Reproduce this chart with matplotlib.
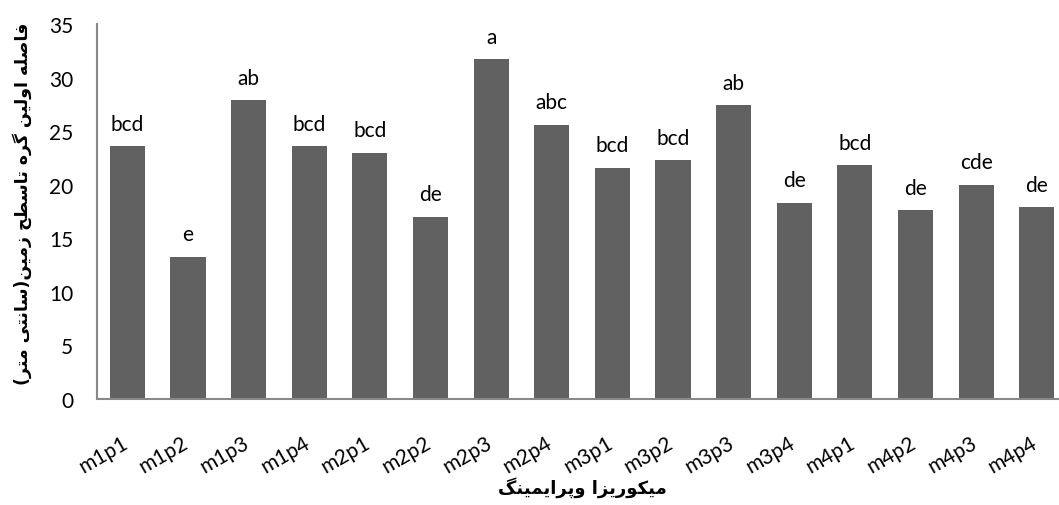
import matplotlib.pyplot as plt
import matplotlib.transforms as mtransforms
import numpy as np

# treatments and mean distance of first node to soil surface (cm)
treatments = ['m1p1', 'm1p2', 'm1p3', 'm1p4', 'm2p1', 'm2p2', 'm2p3', 'm2p4',
              'm3p1', 'm3p2', 'm3p3', 'm3p4', 'm4p1', 'm4p2', 'm4p3', 'm4p4']
means = [23.6, 13.3, 27.9, 23.6, 23.0, 17.0, 31.7, 25.6,
         21.6, 22.3, 27.4, 18.3, 21.8, 17.6, 20.0, 17.9]
groups = ['bcd', 'e', 'ab', 'bcd', 'bcd', 'de', 'a', 'abc',
          'bcd', 'bcd', 'ab', 'de', 'bcd', 'de', 'cde', 'de']

ylabel_fa = 'فاصله اولین گره تاسطح زمین(سانتی متر)'
xlabel_fa = 'میکوریزا وپرایمینگ'

# contextual forms: (isolated, final, initial, medial)
FORMS = {
    'ا': ('\uFE8D', '\uFE8E'),
    'ر': ('\uFEAD', '\uFEAE'),
    'ز': ('\uFEAF', '\uFEB0'),
    'و': ('\uFEED', '\uFEEE'),
    'ت': ('\uFE95', '\uFE96', '\uFE97', '\uFE98'),
    'ح': ('\uFEA1', '\uFEA2', '\uFEA3', '\uFEA4'),
    'س': ('\uFEB1', '\uFEB2', '\uFEB3', '\uFEB4'),
    'ص': ('\uFEB9', '\uFEBA', '\uFEBB', '\uFEBC'),
    'ط': ('\uFEC1', '\uFEC2', '\uFEC3', '\uFEC4'),
    'ف': ('\uFED1', '\uFED2', '\uFED3', '\uFED4'),
    'ل': ('\uFEDD', '\uFEDE', '\uFEDF', '\uFEE0'),
    'م': ('\uFEE1', '\uFEE2', '\uFEE3', '\uFEE4'),
    'ن': ('\uFEE5', '\uFEE6', '\uFEE7', '\uFEE8'),
    'ه': ('\uFEE9', '\uFEEA', '\uFEEB', '\uFEEC'),
    'ی': ('\uFBFC', '\uFBFD', '\uFBFE', '\uFBFF'),
    'ک': ('\uFB8E', '\uFB8F', '\uFB90', '\uFB91'),
    'گ': ('\uFB92', '\uFB93', '\uFB94', '\uFB95'),
    'پ': ('\uFB56', '\uFB57', '\uFB58', '\uFB59'),
}


def shape_fa(s):
    # join letters, then lay out right-to-left
    out = []
    for i, ch in enumerate(s):
        if ch not in FORMS:
            out.append(ch)
            continue
        prev = s[i - 1] if i > 0 else ''
        nxt = s[i + 1] if i + 1 < len(s) else ''
        join_prev = prev in FORMS and len(FORMS[prev]) == 4
        join_next = len(FORMS[ch]) == 4 and nxt in FORMS
        if join_prev and join_next:
            out.append(FORMS[ch][3])
        elif join_prev:
            out.append(FORMS[ch][1])
        elif join_next:
            out.append(FORMS[ch][2])
        else:
            out.append(FORMS[ch][0])
    mirror = {'(': ')', ')': '('}
    return ''.join(mirror.get(c, c) for c in reversed(out))


plt.rcParams['font.family'] = ['Lato', 'DejaVu Sans']

fig = plt.figure(figsize=(10.59, 5.06), dpi=100)
ax = fig.add_axes([0.0916, 0.2095, 0.916, 0.741])

x = np.arange(len(treatments))
bars = ax.bar(x, means, width=0.58, color='#616161', zorder=2)

for xi, m, g in zip(x, means, groups):
    ax.annotate(g, (xi, m), xytext=(0, 9), textcoords='offset points',
                ha='center', va='bottom', fontsize=15, color='black')

ax.set_xlim(-0.5, len(treatments) - 0.5)
ax.set_ylim(0, 35)
ax.set_yticks(range(0, 36, 5))
ax.tick_params(axis='y', length=0, pad=17, labelsize=15)
ax.tick_params(axis='x', length=0, pad=24, labelsize=15)
ax.set_xticks(x)
ax.set_xticklabels(treatments, rotation=30, ha='right')
shift = mtransforms.ScaledTranslation(4 / 100, 0, fig.dpi_scale_trans)
for lbl in ax.get_xticklabels():
    lbl.set_transform(lbl.get_transform() + shift)

for side in ['top', 'right']:
    ax.spines[side].set_visible(False)
for side in ['left', 'bottom']:
    ax.spines[side].set_color('#898989')
    ax.spines[side].set_linewidth(1.5)

ax.set_ylabel(shape_fa(ylabel_fa), family=['DejaVu Sans'], fontweight='bold',
              fontsize=12.5)
ax.yaxis.set_label_coords(-0.067, 0.523)
ax.set_xlabel(shape_fa(xlabel_fa), family=['DejaVu Sans'], fontweight='bold',
              fontsize=13, labelpad=0)

fig.savefig('out.png', dpi=100)
